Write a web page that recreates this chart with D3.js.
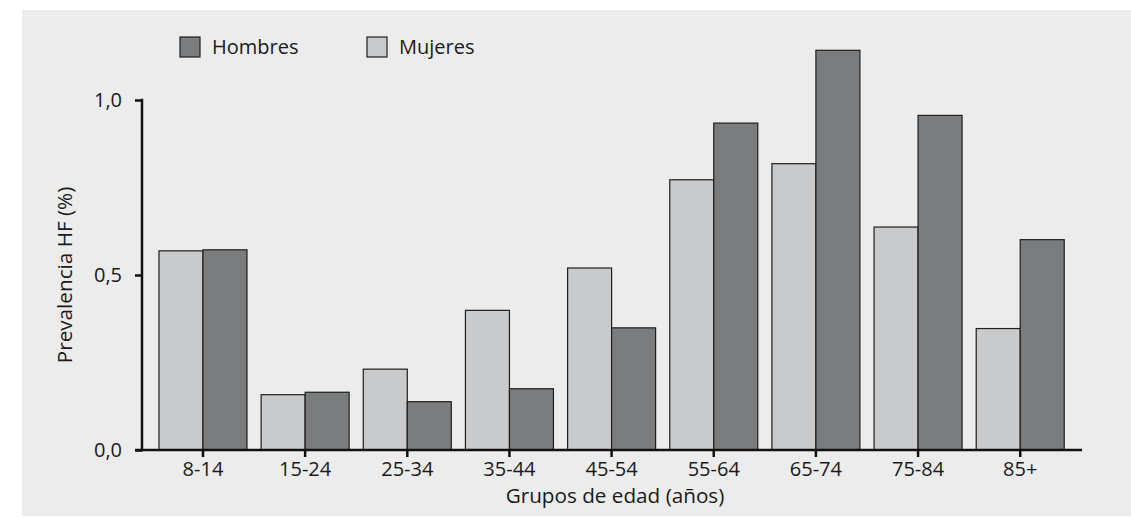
<!DOCTYPE html>
<html>
<head>
<meta charset="utf-8">
<script src="https://cdn.jsdelivr.net/npm/d3@7"></script>
<style>
  html, body { margin: 0; padding: 0; background: #ffffff; }
  svg { display: block; }
  text { font-family: "Open Sans", Lato, sans-serif; fill: #1a1a1a; }
</style>
</head>
<body>
<svg id="chart" width="1131" height="517"></svg>
<script>
const categories = ["8-14", "15-24", "25-34", "35-44", "45-54", "55-64", "65-74", "75-84", "85+"];
const mujeres = [0.569, 0.158, 0.231, 0.399, 0.520, 0.772, 0.818, 0.637, 0.347];
const hombres = [0.572, 0.165, 0.138, 0.175, 0.349, 0.934, 1.142, 0.956, 0.601];
const seriesNames = ["Mujeres", "Hombres"];
const legendOrder = ["Hombres", "Mujeres"];
const yTicks = [0, 0.5, 1.0];
const yTickLabels = ["0,0", "0,5", "1,0"];
const xTitle = "Grupos de edad (años)";
const yTitle = "Prevalencia HF (%)";

const colors = { "Mujeres": "#c9cacc", "Hombres": "#7b7c7e" };
const FONT = "'Open Sans', Lato, sans-serif";
const FS = 20;
const FS_TITLE = 20.7;

const svg = d3.select("#chart");

// panel background
svg.append("rect").attr("x", 22).attr("y", 10).attr("width", 1109).attr("height", 506)
  .attr("fill", "#ebeceb");

const x = d3.scaleBand().domain(categories).range([151.9, 1071.3])
  .paddingInner(0.1386).paddingOuter(0.0693);
const xs = d3.scaleBand().domain(seriesNames).range([0, x.bandwidth()]);
const y = d3.scaleLinear().domain([0, 1]).range([450, 100]);

const data = categories.map((c, i) => ({ cat: c, Mujeres: mujeres[i], Hombres: hombres[i] }));

const groups = svg.append("g").selectAll("g").data(data).join("g")
  .attr("transform", d => `translate(${x(d.cat)},0)`);

groups.selectAll("rect").data(d => seriesNames.map(s => ({ s, v: d[s] }))).join("rect")
  .attr("x", d => xs(d.s))
  .attr("y", d => y(d.v))
  .attr("width", xs.bandwidth())
  .attr("height", d => y(0) - y(d.v))
  .attr("fill", d => colors[d.s])
  .attr("stroke", "#1e1e1e")
  .attr("stroke-width", 1.2);

// y axis
const yAxis = d3.axisLeft(y).tickValues(yTicks)
  .tickFormat((d, i) => yTickLabels[i]).tickSize(7).tickSizeOuter(0).tickPadding(13);
const gy = svg.append("g").attr("transform", "translate(142,0)").call(yAxis);
gy.select(".domain").remove();
gy.selectAll(".tick line").attr("stroke", "#111").attr("stroke-width", 2.5);
gy.selectAll(".tick text").attr("font-size", FS).attr("font-family", FONT).attr("fill", "#1a1a1a");
svg.append("line").attr("x1", 142).attr("x2", 142).attr("y1", y(1) - 1.2).attr("y2", y(0) + 1.2)
  .attr("stroke", "#111").attr("stroke-width", 2.5);

// x axis
const xAxis = d3.axisBottom(x).tickSize(7).tickSizeOuter(0).tickPadding(5);
const gx = svg.append("g").attr("transform", `translate(0,${y(0)})`).call(xAxis);
gx.select(".domain").remove();
gx.selectAll(".tick line").attr("stroke", "#111").attr("stroke-width", 2.5);
gx.selectAll(".tick text").attr("font-size", FS).attr("font-family", FONT).attr("fill", "#1a1a1a");
svg.append("line").attr("x1", 135).attr("x2", 1082).attr("y1", y(0)).attr("y2", y(0))
  .attr("stroke", "#111").attr("stroke-width", 2.5);

// axis titles
svg.append("text").attr("x", 615).attr("y", 503).attr("text-anchor", "middle")
  .attr("font-size", FS_TITLE).text(xTitle);
svg.append("text").attr("transform", "translate(72,275) rotate(-90)").attr("text-anchor", "middle")
  .attr("font-size", FS_TITLE).text(yTitle);

// legend
const legendX = [180, 367];
const lg = svg.append("g").selectAll("g").data(legendOrder).join("g")
  .attr("transform", (d, i) => `translate(${legendX[i]},37)`);
lg.append("rect").attr("width", 20).attr("height", 20)
  .attr("fill", d => colors[d]).attr("stroke", "#1e1e1e").attr("stroke-width", 1.2);
lg.append("text").attr("x", 32).attr("y", 17).attr("font-size", FS).text(d => d);
</script>
</body>
</html>
